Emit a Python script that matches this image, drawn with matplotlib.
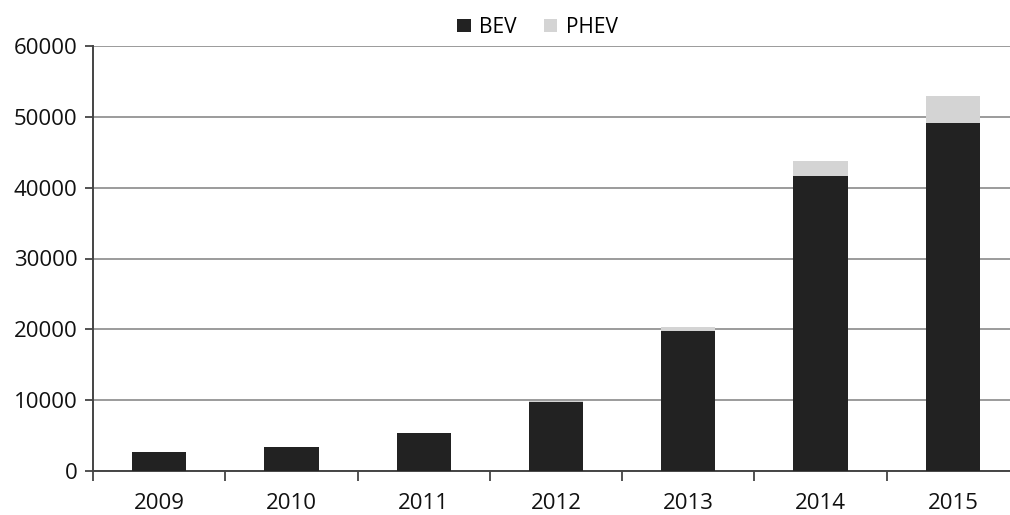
import matplotlib.pyplot as plt
import numpy as np

# Yearly sales values
years = ['2009', '2010', '2011', '2012', '2013', '2014', '2015']
bev = [2700, 3400, 5400, 9750, 19700, 41600, 49200]
phev = [0, 0, 0, 100, 650, 2200, 3800]

plt.rcParams['font.family'] = ['Open Sans', 'DejaVu Sans']

fig = plt.figure(figsize=(10.1, 5.15), dpi=100)
# axes run past the right edge, like the cropped original
ax = fig.add_axes([93 / 1010, 44 / 515, 926 / 1010, 425 / 515])

x = np.arange(len(years))
width = 0.41
ax.bar(x, bev, width, color='#222222', label='BEV', zorder=3)
ax.bar(x, phev, width, bottom=bev, color='#d4d4d4', label='PHEV', zorder=3)

ax.set_xlim(-0.5, len(years) - 0.5)
ax.set_ylim(0, 60000)
ax.set_yticks(np.arange(0, 60001, 10000))
ax.set_xticks(x)
ax.set_xticklabels(years)
ax.set_xticks(np.arange(-0.5, len(years), 1), minor=True)

ax.grid(axis='y', color='#8a8a8a', linewidth=1.2, zorder=0)
for side in ['top', 'right']:
    ax.spines[side].set_visible(False)
for side in ['left', 'bottom']:
    ax.spines[side].set_color('#444444')
    ax.spines[side].set_linewidth(1.4)

ax.tick_params(axis='x', which='major', length=0, pad=16, labelsize=16, colors='#111111')
ax.tick_params(axis='x', which='minor', length=7, width=1.3, color='#444444')
ax.tick_params(axis='y', length=6, width=1.3, pad=5, color='#444444', labelsize=16, labelcolor='#111111')

fig.legend(loc='center', bbox_to_anchor=(0.532, 0.947), ncol=2, frameon=False,
           fontsize=15, handlelength=0.65, handleheight=0.65, handletextpad=0.4, columnspacing=1.3)

plt.savefig('out.png', dpi=100)
